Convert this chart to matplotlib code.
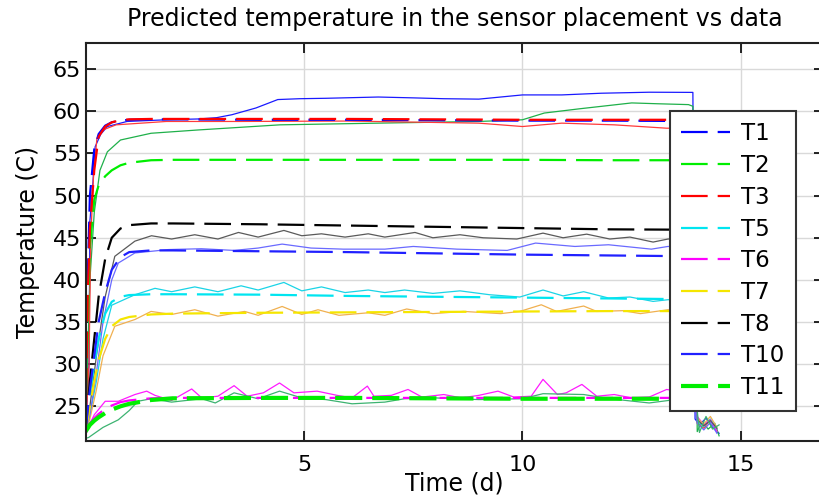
import matplotlib
matplotlib.use("Agg")
import matplotlib.pyplot as plt

# model prediction (dashed) -------------------------------------------
t_model = [0, 0.05, 0.1, 0.2, 0.3, 0.45, 0.6, 0.8, 1.0, 1.5, 2, 4, 6, 8, 10, 12, 14]
model = {
    "T1": [22, 40, 50, 55.5, 57.3, 58.3, 58.7, 58.9, 59.0, 59.05, 59.05, 59.0, 59.0, 58.95, 58.9, 58.9, 58.85],
    "T2": [22, 35, 44, 49.5, 51.2, 52.3, 53.0, 53.6, 53.9, 54.2, 54.25, 54.25, 54.25, 54.25, 54.25, 54.2, 54.2],
    "T3": [22, 38, 46, 53, 57.0, 58.2, 58.7, 58.95, 59.05, 59.1, 59.1, 59.1, 59.1, 59.05, 59.0, 59.0, 59.0],
    "T5": [22, 24, 26.5, 30, 33, 36, 37.4, 38.0, 38.2, 38.3, 38.3, 38.25, 38.1, 38.0, 37.9, 37.8, 37.7],
    "T6": [22, 22.5, 23, 23.6, 24.1, 24.7, 25.1, 25.5, 25.7, 25.95, 26.0, 26.0, 26.0, 26.0, 26.0, 26.0, 26.0],
    "T7": [22, 23.5, 25, 28, 30.5, 33, 34.5, 35.3, 35.6, 35.9, 36.0, 36.1, 36.15, 36.2, 36.25, 36.3, 36.3],
    "T8": [22, 25, 28, 33, 38, 42.5, 45.0, 46.1, 46.5, 46.7, 46.7, 46.6, 46.45, 46.3, 46.15, 46.0, 45.95],
    "T10": [22, 24.5, 27, 31, 35, 38.5, 41.2, 42.7, 43.3, 43.5, 43.5, 43.4, 43.3, 43.15, 43.0, 42.9, 42.8],
    "T11": [22.0, 22.4, 22.8, 23.3, 23.7, 24.2, 24.6, 25.0, 25.3, 25.75, 25.95, 26.0, 26.0, 25.95, 25.9, 25.9, 25.9],
}
model_colors = {
    "T1": "#0000ff", "T2": "#00ee00", "T3": "#ff0000", "T5": "#00e5f0", "T6": "#ff00ff",
    "T7": "#f5e600", "T8": "#000000", "T10": "#2020ff", "T11": "#00ee00",
}

# measured data (thin solid) ------------------------------------------
t1d = [0, 0.08, 0.1, 0.15, 0.22, 0.35, 0.5, 0.95, 1.85, 2.6, 3.0, 3.35, 3.9, 4.4, 4.9, 5.5, 6.7, 7.5, 8.2, 9.0,
       10.0, 10.9, 11.8, 12.9, 13.9, 13.95, 14.05, 14.2, 14.35, 14.5]
T1d = [22, 30, 47, 50, 55.8, 57.3, 58.2, 58.8, 59.0, 59.1, 59.25, 59.6, 60.4, 61.4, 61.5, 61.55, 61.7, 61.6, 61.5, 61.45,
       61.95, 61.95, 62.15, 62.27, 62.25, 23.5, 22.8, 23.6, 22.5, 21.8]

t2d = [0, 0.1, 0.2, 0.33, 0.5, 0.8, 1.5, 2.6, 4.45, 6.7, 9.0, 10.0, 10.5, 11.3, 12.5, 13.1, 13.8, 13.9, 14.0, 14.1,
       14.25, 14.4, 14.5]
T2d = [22, 40, 48, 53, 55.2, 56.6, 57.4, 57.8, 58.4, 58.6, 58.8, 59.0, 59.8, 60.3, 61.0, 60.9, 60.8, 60.6, 22.0, 23.2,
       22.3, 23.0, 21.5]

t3d = [0, 0.08, 0.12, 0.18, 0.26, 0.4, 0.7, 1.85, 3.5, 6, 9.0, 10.0, 10.9, 12.1, 13.3, 13.9, 14.0, 14.15, 14.3, 14.45]
T3d = [22, 30, 45, 52, 56.8, 57.8, 58.4, 58.8, 58.8, 58.85, 58.6, 58.2, 58.6, 58.4, 58.0, 58.0, 23.0, 22.4, 23.4, 22.2]

t5d = [0, 0.1, 0.25, 0.4, 0.6, 1.13, 1.59, 1.97, 2.5, 3.03, 3.56, 3.95, 4.54, 4.95, 5.4, 5.94, 6.47, 6.85, 7.3, 7.95,
       8.57, 9.25, 9.94, 10.47, 10.93, 11.4, 11.97, 12.46, 12.99, 13.33, 13.9, 14.0, 14.15, 14.3, 14.45]
T5d = [22, 24, 28, 33, 37.0, 38.24, 39.0, 38.6, 39.17, 38.6, 39.3, 38.8, 39.7, 38.7, 39.17, 38.5, 38.8, 38.5, 38.8, 38.4,
       38.7, 38.24, 37.97, 38.8, 38.1, 38.6, 37.85, 37.97, 37.45, 37.65, 37.6, 23.2, 22.6, 23.5, 22.3]

t6d = [0, 0.07, 0.2, 0.45, 0.75, 1.13, 1.4, 1.59, 1.97, 2.43, 2.66, 3.03, 3.4, 3.7, 4.07, 4.44, 4.77, 5.3, 5.76, 6.1,
       6.45, 6.6, 7.0, 7.38, 7.7, 8.2, 8.6, 9.0, 9.44, 9.8, 10.2, 10.47, 10.8, 11.0, 11.36, 11.7, 12.1, 12.5, 12.9,
       13.3, 13.9, 14.0, 14.15, 14.3, 14.45]
T6d = [21.5, 22.6, 24.0, 25.6, 25.6, 26.4, 26.8, 26.3, 25.7, 27.06, 26.0, 26.2, 27.45, 26.2, 26.6, 27.77, 26.6, 26.8,
       26.3, 26.0, 27.4, 26.2, 26.3, 27.0, 26.1, 26.4, 26.0, 26.3, 26.8, 26.1, 26.2, 28.2, 26.4, 26.6, 27.6, 26.2, 26.4,
       26.0, 26.1, 27.0, 26.5, 23.8, 22.8, 23.4, 22.0]

t7d = [0, 0.1, 0.25, 0.4, 0.67, 1.13, 1.5, 1.97, 2.5, 3.03, 3.64, 3.95, 4.5, 4.95, 5.32, 5.8, 6.47, 6.85, 7.35, 7.95,
       8.65, 9.5, 9.94, 10.43, 10.78, 11.4, 11.7, 12.3, 12.7, 13.33, 13.9, 14.0, 14.15, 14.3, 14.45]
T7d = [22, 23.5, 27, 31, 34.5, 35.3, 36.26, 35.9, 36.46, 35.7, 36.26, 35.8, 36.85, 35.9, 36.46, 35.8, 36.1, 35.8, 36.55,
       36.0, 36.26, 36.0, 36.26, 37.05, 36.26, 36.9, 36.26, 36.35, 36.0, 36.46, 36.3, 23.6, 22.9, 23.8, 22.5]

t8d = [0, 0.1, 0.25, 0.45, 0.67, 1.13, 1.51, 1.97, 2.5, 3.03, 3.5, 3.95, 4.54, 4.95, 5.4, 5.94, 6.47, 6.85, 7.54, 7.95,
       8.57, 9.1, 9.87, 10.47, 10.93, 11.47, 12.0, 12.46, 12.99, 13.33, 13.9, 14.0, 14.15, 14.3, 14.45]
T8d = [22, 25, 31, 38, 42.8, 44.6, 45.24, 44.85, 45.36, 44.85, 45.63, 45.08, 45.87, 45.24, 45.47, 45.08, 45.47, 45.08,
       45.63, 45.0, 45.36, 45.0, 44.85, 45.55, 45.0, 45.43, 44.85, 45.08, 44.49, 44.85, 44.9, 23.4, 22.7, 23.3, 22.4]

t10d = [0, 0.1, 0.25, 0.4, 0.6, 0.75, 1.13, 1.9, 2.65, 3.4, 3.95, 4.5, 5.16, 5.9, 6.85, 7.5, 8.5, 9.65, 10.3, 11.2,
        11.97, 12.95, 13.33, 13.9, 14.0, 14.15, 14.3, 14.45]
T10d = [22, 24, 29, 35, 40.0, 42.0, 43.2, 43.6, 43.7, 43.5, 43.78, 44.25, 43.78, 43.65, 43.65, 43.97, 43.65, 43.5,
        44.37, 43.97, 44.17, 43.65, 43.97, 43.9, 23.0, 22.2, 23.1, 21.8]

t11d = [0, 0.07, 0.4, 0.75, 1.0, 1.2, 1.5, 1.97, 2.66, 2.97, 3.4, 3.95, 4.44, 4.95, 5.5, 6.1, 6.85, 7.3, 8.0, 9.0,
        10.0, 10.47, 11.4, 12.0, 12.9, 13.5, 13.9, 14.0, 14.05, 14.2, 14.35, 14.5]
T11d = [21.2, 21.3, 22.5, 23.4, 24.5, 25.6, 25.9, 25.5, 25.9, 25.4, 26.6, 25.9, 26.8, 26.0, 25.8, 25.3, 25.5, 25.9,
        26.0, 25.8, 25.9, 26.5, 26.4, 25.9, 25.4, 25.8, 25.9, 24.5, 21.9, 23.8, 22.3, 22.8]

data = [
    (t1d, T1d, "#1a1aff"), (t2d, T2d, "#1fb04a"), (t3d, T3d, "#ff3a3a"),
    (t5d, T5d, "#1ad4e6"), (t6d, T6d, "#ff1aff"), (t7d, T7d, "#f0b050"),
    (t8d, T8d, "#5a5a5a"), (t10d, T10d, "#6a6aff"), (t11d, T11d, "#3cb371"),
]

fig = plt.figure(figsize=(8.2, 5.01), dpi=100)
ax = fig.add_axes([0.1043, 0.12, 0.9, 0.794])

for t, y, c in data:
    ax.plot(t, y, color=c, lw=0.9)

for name, vals in model.items():
    if name == "T11":
        ax.plot(t_model, vals, color=model_colors[name], lw=3.0, dashes=(6.5, 2.4), label=name)
    else:
        ax.plot(t_model, vals, color=model_colors[name], lw=1.6, dashes=(12, 4.5), label=name)

ax.set_xlim(0, 16.89)
ax.set_ylim(20.9, 68.1)
ax.set_xticks([5, 10, 15])
ax.set_yticks([25, 30, 35, 40, 45, 50, 55, 60, 65])
ax.grid(True, color="#d9d9d9", lw=1)
ax.set_axisbelow(True)
ax.tick_params(direction="in", top=True, right=True, length=7, width=1.2, labelsize=16)
ax.tick_params(axis="x", pad=10)
ax.tick_params(axis="y", pad=3)
for s in ax.spines.values():
    s.set_linewidth(1.5)
    s.set_color("#222222")

ax.set_title("Predicted temperature in the sensor placement vs data", fontsize=17, pad=12)
ax.set_xlabel("Time (d)", fontsize=17, labelpad=-2)
ax.set_ylabel("Temperature (C)", fontsize=17, labelpad=9)

leg = ax.legend(loc="upper left", bbox_to_anchor=(670 / 820, 1 - 111 / 501), bbox_transform=fig.transFigure,
                fontsize=16.5, handlelength=2.1, handletextpad=0.5, labelspacing=0.38, borderpad=0.5,
                fancybox=False, framealpha=1, borderaxespad=0)
leg.get_frame().set_edgecolor("#333333")
leg.get_frame().set_linewidth(1.5)

fig.savefig("out.png", dpi=100)
